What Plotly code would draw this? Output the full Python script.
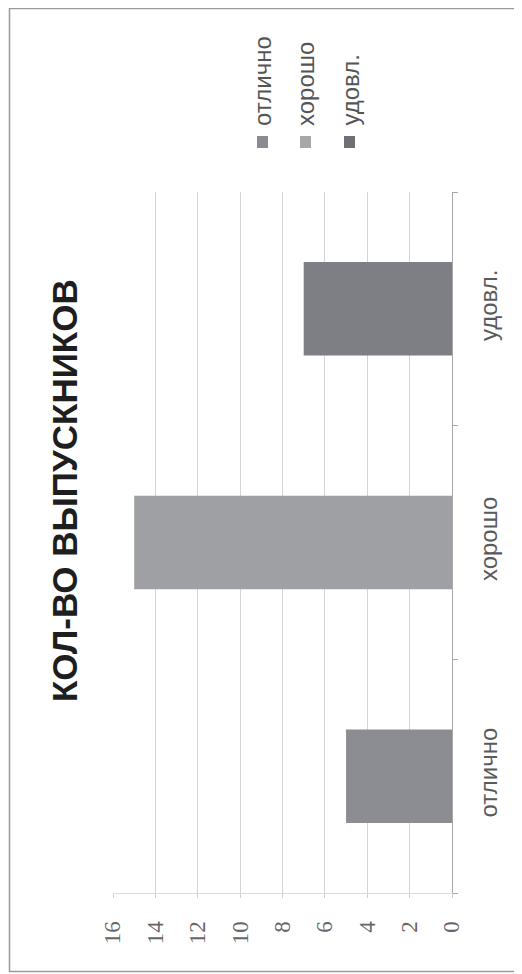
import plotly.graph_objects as go

# ---- data ----
categories = ["отлично", "хорошо", "удовл."]
values = [5, 15, 7]
bar_colors = ["#8c8d92", "#9ea0a4", "#7e7f84"]
legend_labels = ["отлично", "хорошо", "удовл."]
legend_colors = ["#8a8b90", "#a6a7aa", "#6f7075"]
value_ticks = [0, 2, 4, 6, 8, 10, 12, 14, 16]
title_text = "КОЛ-ВО ВЫПУСКНИКОВ"

# ---- layout geometry (target-image pixels) ----
OFF = 8                      # page body margin
W, H = 522 - OFF, 974 - OFF
PL, PR, PT, PB = 113, 452, 192, 893   # plot area in target pixels
L = PL - OFF
T = PT - OFF
R = W - (PR - OFF)
B = H - (PB - OFF)
PW = PR - PL
PH = PB - PT

def px_x(px):
    return (px - PL) / PW

def px_y(py):
    return (PB - py) / PH

fig = go.Figure()
fig.add_trace(go.Bar(
    y=categories, x=values, orientation="h",
    marker=dict(color=bar_colors, line=dict(width=0)),
    width=0.4, showlegend=False, hoverinfo="x+y",
))

annotations = [
    dict(text="<b>" + title_text + "</b>", textangle=-90, xref="paper", yref="paper",
         x=px_x(64), y=px_y(491), showarrow=False, xanchor="center", yanchor="middle",
         font=dict(family="Liberation Sans, Arial, sans-serif", size=35, color="#1e1e1e"))
]
shapes = []
leg_x = [263, 306, 350]
for lab, col, lx in zip(legend_labels, legend_colors, leg_x):
    annotations.append(dict(
        text=lab, textangle=-90, xref="paper", yref="paper",
        x=px_x(lx), y=px_y(128), showarrow=False, xanchor="center", yanchor="bottom",
        font=dict(family="Liberation Sans, Arial, sans-serif", size=24, color="#555555")))
    shapes.append(dict(type="rect", xref="paper", yref="paper",
                       x0=px_x(lx - 6), x1=px_x(lx + 5), y0=px_y(148), y1=px_y(136),
                       fillcolor=col, line=dict(width=0)))

# outer chart border
shapes.append(dict(type="rect", xref="paper", yref="paper",
                   x0=px_x(9.5), x1=px_x(521), y0=px_y(971.5), y1=px_y(8.5),
                   line=dict(color="#9a9a9a", width=1.5), fillcolor="rgba(0,0,0,0)", layer="below"))

fig.update_layout(
    width=W, height=H,
    margin=dict(l=L, r=R, t=T, b=B, pad=0),
    paper_bgcolor="white", plot_bgcolor="white",
    annotations=annotations, shapes=shapes,
    showlegend=False,
    xaxis=dict(
        range=[16, 0], tickvals=value_ticks, ticktext=[str(v) for v in value_ticks],
        tickangle=-90, showgrid=True, gridcolor="#d4d4d4", gridwidth=1,
        zeroline=False, showline=True, linecolor="#dcdcdc", linewidth=1,
        ticks="outside", ticklen=4, tickcolor="#d0d0d0",
        ticklabelstandoff=14,
        tickfont=dict(family="Liberation Serif, Times New Roman, serif", size=23, color="#666666"),
    ),
    yaxis=dict(
        type="category", categoryorder="array", categoryarray=categories,
        range=[-0.5, 2.5], side="right", tickangle=-90,
        showgrid=False, zeroline=False, showline=True, linecolor="#a8a8a8", linewidth=1,
        ticks="outside", tickson="boundaries", ticklen=5, tickcolor="#a8a8a8",
        ticklabelstandoff=15,
        tickfont=dict(family="Liberation Sans, Arial, sans-serif", size=24, color="#5a5a5a"),
    ),
)

fig.write_html("out.html")
